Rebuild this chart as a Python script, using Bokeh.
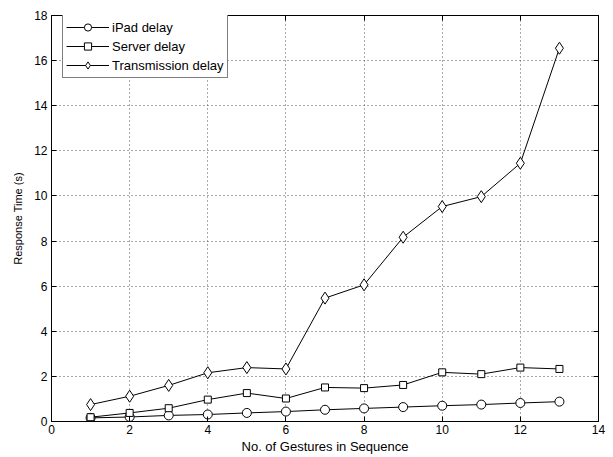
from bokeh.plotting import figure
from bokeh.models import LinearAxis, Range1d, FixedTicker, Legend, LegendItem
from bokeh.embed import file_html
from bokeh.resources import INLINE

gestures = [1, 2, 3, 4, 5, 6, 7, 8, 9, 10, 11, 12, 13]
ipad_delay = [0.16, 0.2, 0.27, 0.31, 0.38, 0.44, 0.52, 0.58, 0.64, 0.7, 0.75, 0.82, 0.88]
server_delay = [0.19, 0.38, 0.59, 0.97, 1.26, 1.02, 1.51, 1.48, 1.62, 2.18, 2.1, 2.39, 2.33]
transmission_delay = [0.75, 1.12, 1.6, 2.16, 2.39, 2.33, 5.47, 6.06, 8.17, 9.53, 9.97, 11.45, 16.55]
x_ticks = [0, 2, 4, 6, 8, 10, 12, 14]
y_ticks = [0, 2, 4, 6, 8, 10, 12, 14, 16, 18]

FONT = "Liberation Sans"

p = figure(width=613, height=457, output_backend="svg", toolbar_location=None,
           x_range=Range1d(0, 14), y_range=Range1d(0, 18),
           min_border_left=51, min_border_right=15, min_border_top=15, min_border_bottom=36)
p.background_fill_color = "white"
p.border_fill_color = "white"
p.outline_line_color = "black"
p.outline_line_width = 1

p.xaxis.ticker = FixedTicker(ticks=x_ticks)
p.yaxis.ticker = FixedTicker(ticks=y_ticks)
for ax in [p.xaxis[0], p.yaxis[0]]:
    ax.major_tick_in = 5
    ax.major_tick_out = 0
    ax.minor_tick_line_color = None
    ax.axis_line_color = "black"
    ax.major_tick_line_color = "black"
    ax.major_label_text_font = FONT
    ax.major_label_text_font_size = "12px"
    ax.major_label_text_color = "black"
    ax.axis_label_text_font = FONT
    ax.axis_label_text_font_style = "normal"
    ax.axis_label_text_color = "black"
p.xaxis.axis_label = "No. of Gestures in Sequence"
p.yaxis.axis_label = "Response Time (s)"
p.xaxis.axis_label_text_font_size = "13px"
p.yaxis.axis_label_text_font_size = "11px"
p.xaxis.major_label_standoff = 3
p.xaxis.axis_label_standoff = 2
p.yaxis.major_label_standoff = 4
p.yaxis.axis_label_standoff = 7

top = LinearAxis(ticker=FixedTicker(ticks=x_ticks))
right = LinearAxis(ticker=FixedTicker(ticks=y_ticks))
for ax in [top, right]:
    ax.major_tick_in = 5
    ax.major_tick_out = 0
    ax.minor_tick_line_color = None
    ax.major_label_text_font_size = "12px"
    ax.major_label_text_color = None
    ax.major_label_standoff = 0
    ax.axis_line_color = "black"
p.add_layout(top, "above")
p.add_layout(right, "right")

p.xgrid.ticker = FixedTicker(ticks=x_ticks[1:-1])
p.ygrid.ticker = FixedTicker(ticks=y_ticks[1:-1])
for g in [p.xgrid, p.ygrid]:
    g.grid_line_color = "#555555"
    g.grid_line_dash = "1 3"
    g.grid_line_width = 1

l1 = p.line(gestures, ipad_delay, line_color="black", line_width=1)
m1 = p.scatter(gestures, ipad_delay, marker="circle", size=9, fill_color="white", line_color="black")
l2 = p.line(gestures, server_delay, line_color="black", line_width=1)
m2 = p.scatter(gestures, server_delay, marker="square", size=7, fill_color="white", line_color="black")
l3 = p.line(gestures, transmission_delay, line_color="black", line_width=1)
m3 = p.scatter(gestures, transmission_delay, marker="diamond", size=12, fill_color="white", line_color="black")

legend = Legend(items=[
    LegendItem(label="iPad delay", renderers=[l1, m1]),
    LegendItem(label="Server delay", renderers=[l2, m2]),
    LegendItem(label="Transmission delay", renderers=[l3, m3]),
], location=(11, 343))
legend.label_text_font = FONT
legend.label_text_font_size = "13px"
legend.label_text_color = "black"
legend.glyph_width = 43
legend.glyph_height = 18
legend.label_height = 18
legend.label_standoff = 3
legend.spacing = 1
legend.padding = 3
legend.margin = 0
legend.border_line_color = "black"
legend.border_line_width = 1
legend.background_fill_color = "white"
legend.background_fill_alpha = 1
p.add_layout(legend, "center")

open("out.html", "w").write(file_html(p, INLINE))
